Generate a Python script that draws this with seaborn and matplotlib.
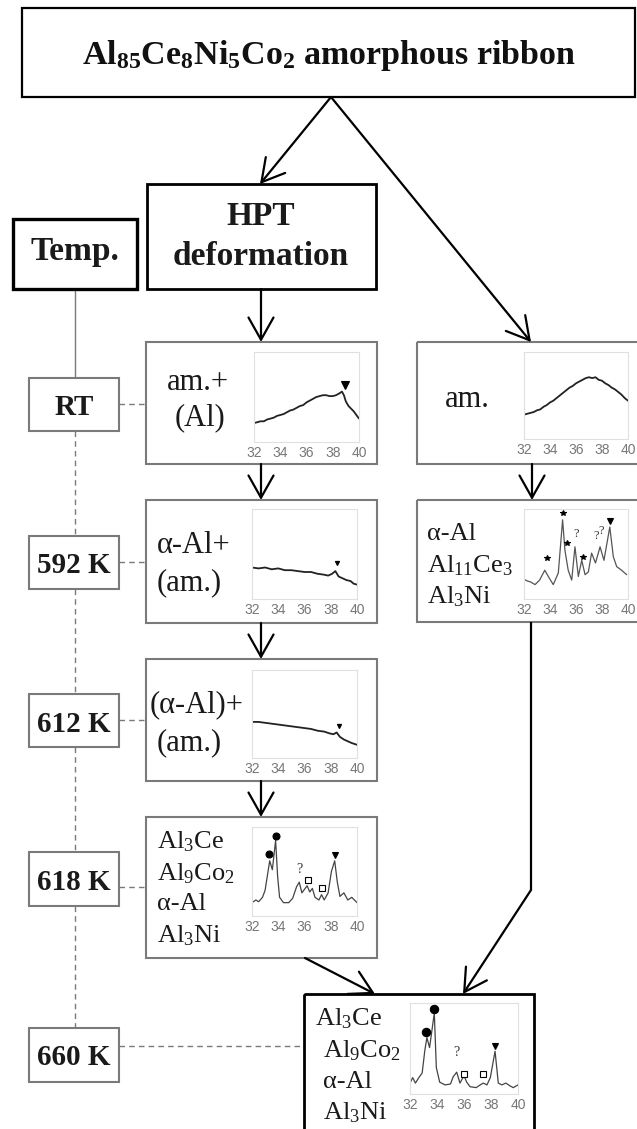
import matplotlib
matplotlib.use('Agg')
import matplotlib.pyplot as plt
import matplotlib.patches as mpatches
import seaborn as sns
import numpy as np

# ---------------- data ----------------
tick_vals = [32, 34, 36, 38, 40]
tick_labels = ["32", "34", "36", "38", "40"]

temps = ["RT", "592 K", "612 K", "618 K", "660 K"]

# HPT, RT : am.+(Al)
rt_x = [32.0, 32.25, 32.5, 32.75, 33.0, 33.25, 33.5, 33.75, 34.0, 34.25, 34.5, 34.75,
        35.0, 35.25, 35.5, 35.75, 36.0, 36.25, 36.5, 36.75, 37.0, 37.25, 37.5, 37.75,
        38.0, 38.25, 38.5, 38.7, 38.85, 39.0, 39.2, 39.4, 39.6, 39.8, 40.0]
rt_y = [0.21, 0.22, 0.23, 0.23, 0.25, 0.26, 0.27, 0.29, 0.30, 0.31, 0.33, 0.35,
        0.36, 0.38, 0.40, 0.41, 0.44, 0.46, 0.48, 0.50, 0.51, 0.52, 0.52, 0.51,
        0.51, 0.52, 0.54, 0.56, 0.52, 0.45, 0.40, 0.37, 0.34, 0.30, 0.26]

# as-spun ribbon : am.
am_x = [32.0, 32.25, 32.5, 32.75, 33.0, 33.25, 33.5, 33.75, 34.0, 34.25, 34.5, 34.75,
        35.0, 35.25, 35.5, 35.75, 36.0, 36.25, 36.5, 36.75, 37.0, 37.25, 37.5, 37.75,
        38.0, 38.25, 38.5, 38.75, 39.0, 39.25, 39.5, 39.75, 40.0]
am_y = [0.28, 0.29, 0.30, 0.31, 0.33, 0.34, 0.37, 0.39, 0.42, 0.44, 0.47, 0.50,
        0.53, 0.56, 0.59, 0.61, 0.64, 0.66, 0.68, 0.70, 0.71, 0.70, 0.71, 0.68,
        0.67, 0.64, 0.62, 0.59, 0.57, 0.54, 0.51, 0.47, 0.44]

# HPT, 592 K : α-Al+(am.)
k592_x = [32.0, 32.5, 33.0, 33.5, 34.0, 34.5, 35.0, 35.5, 36.0, 36.5, 37.0, 37.5,
          37.8, 38.1, 38.35, 38.6, 38.9, 39.2, 39.5, 39.75, 40.0]
k592_y = [0.35, 0.34, 0.35, 0.33, 0.34, 0.32, 0.32, 0.31, 0.30, 0.30, 0.28, 0.27,
          0.26, 0.28, 0.31, 0.25, 0.23, 0.21, 0.20, 0.17, 0.16]

# HPT, 612 K : (α-Al)+(am.)
k612_x = [32.0, 32.5, 33.0, 33.5, 34.0, 34.5, 35.0, 35.5, 36.0, 36.5, 37.0, 37.5,
          37.9, 38.2, 38.45, 38.7, 39.0, 39.3, 39.6, 39.8, 40.0]
k612_y = [0.41, 0.41, 0.40, 0.39, 0.38, 0.37, 0.36, 0.35, 0.34, 0.33, 0.31, 0.30,
          0.28, 0.27, 0.29, 0.24, 0.21, 0.19, 0.17, 0.16, 0.15]

# HPT, 618 K
k618_x = [32.0, 32.3, 32.5, 32.8, 33.0, 33.2, 33.35, 33.55, 33.8, 33.95, 34.1, 34.4,
          34.8, 35.1, 35.4, 35.6, 35.8, 36.0, 36.2, 36.4, 36.6, 36.8, 37.1, 37.3,
          37.5, 37.8, 38.05, 38.3, 38.5, 38.7, 39.0, 39.3, 39.6, 40.0]
k618_y = [0.15, 0.18, 0.16, 0.21, 0.29, 0.48, 0.62, 0.52, 0.85, 0.45, 0.21, 0.15,
          0.15, 0.20, 0.33, 0.38, 0.26, 0.30, 0.34, 0.27, 0.31, 0.21, 0.18, 0.24,
          0.18, 0.26, 0.50, 0.62, 0.38, 0.22, 0.26, 0.18, 0.21, 0.15]

# 660 K (both routes)
k660_x = [32.0, 32.2, 32.4, 32.7, 32.9, 33.1, 33.25, 33.45, 33.8, 33.95, 34.2, 34.6,
          35.0, 35.2, 35.46, 35.7, 36.0, 36.2, 36.45, 36.9, 37.2, 37.43, 37.7, 37.95,
          38.3, 38.54, 38.8, 39.1, 39.4, 39.65, 40.0]
k660_y = [0.12, 0.18, 0.12, 0.19, 0.23, 0.48, 0.62, 0.51, 0.89, 0.29, 0.13, 0.10,
          0.11, 0.19, 0.24, 0.12, 0.20, 0.13, 0.08, 0.07, 0.10, 0.12, 0.10, 0.18,
          0.47, 0.12, 0.10, 0.12, 0.09, 0.07, 0.10]

# ribbon annealed at 592 K
r592_x = [32.0, 32.25, 32.5, 32.85, 33.2, 33.6, 33.87, 34.25, 34.64, 34.97, 35.15, 35.4,
          35.67, 35.92, 36.18, 36.44, 36.7, 36.95, 37.2, 37.5, 37.85, 38.15, 38.6,
          38.87, 39.13, 39.5, 39.9]
r592_y = [0.22, 0.20, 0.19, 0.16, 0.21, 0.32, 0.25, 0.16, 0.29, 0.88, 0.54, 0.32,
          0.21, 0.58, 0.25, 0.43, 0.27, 0.30, 0.51, 0.40, 0.58, 0.43, 0.80,
          0.47, 0.36, 0.32, 0.27]

# peak markers
rt_tri = ([38.95], [0.63])
k592_tri = ([38.5], [0.40])
k612_tri = ([38.6], [0.36])
k618_dot = ([33.3, 33.8], [0.70, 0.90])
k618_sq = ([36.3, 37.3], [0.40, 0.32])
k618_q = ([35.6], [0.45])
k618_tri = ([38.3], [0.68])
k660_dot = ([33.2, 33.8], [0.68, 0.93])
k660_sq = ([36.0, 37.43], [0.22, 0.22])
k660_q = ([35.46], [0.38])
k660_tri = ([38.33], [0.53])
r592_star = ([33.74, 34.97, 35.28, 36.55], [0.46, 0.95, 0.62, 0.47])
r592_q = ([36.0, 37.55, 37.95], [0.66, 0.63, 0.69])
r592_tri = ([38.65], [0.87])

# ---------------- style ----------------
sns.set_style('white')
plt.rcParams['font.family'] = ['Liberation Serif', 'DejaVu Serif']
plt.rcParams['mathtext.fontset'] = 'custom'
plt.rcParams['mathtext.rm'] = 'Liberation Serif'
plt.rcParams['mathtext.it'] = 'Liberation Serif:italic'
plt.rcParams['mathtext.bf'] = 'Liberation Serif:bold'

W, H = 637, 1129
fig = plt.figure(figsize=(W / 100, H / 100), dpi=100)
ax = fig.add_axes([0, 0, 1, 1])
ax.set_xlim(0, W)
ax.set_ylim(H, 0)
ax.axis('off')

GRAY = '#7a7a7a'


def box(x0, y0, x1, y1, ec='k', lw=1.5):
    ax.add_patch(mpatches.Rectangle((x0, y0), x1 - x0, y1 - y0, fill=False,
                                    ec=ec, lw=lw, zorder=2))


def arrow(p0, p1):
    ax.annotate('', xy=p1, xytext=p0,
                arrowprops=dict(arrowstyle='->,head_length=0.8,head_width=0.45',
                                lw=1.6, color='k', shrinkA=0, shrinkB=0,
                                mutation_scale=20), zorder=3)


def txt(x, y, s, size, ha='left', bold=False):
    ax.text(x, y, s, fontsize=size, ha=ha, va='baseline',
            fontweight='bold' if bold else 'normal', color='#1a1a1a', zorder=4)


# ---------------- top / process boxes ----------------
box(22, 8, 635, 97, lw=1.6)
ax.text(329, 64, r'Al$_{\mathbf{85}}$Ce$_{\mathbf{8}}$Ni$_{\mathbf{5}}$Co$_{\mathbf{2}}$ amorphous ribbon',
        fontsize=24.5, fontweight='bold', ha='center', va='baseline', color='#111')

box(147, 184, 376, 289, lw=2.0)
txt(261, 225, 'HPT', 24, ha='center', bold=True)
txt(261, 265, 'deformation', 24, ha='center', bold=True)

box(13, 219, 137, 289, lw=2.4)
txt(75, 260, 'Temp.', 24, ha='center', bold=True)

# arrows from the ribbon
arrow((331, 97), (260, 184))
arrow((331, 97), (531, 342))
arrow((261, 289), (261, 342))
arrow((261, 464), (261, 500))
arrow((261, 623), (261, 659))
arrow((261, 781), (261, 817))
arrow((532, 464), (532, 500))
ax.plot([531, 531], [622, 890], color='k', lw=1.6, zorder=3, solid_capstyle='butt')
arrow((531, 890), (463, 994))
arrow((305, 958), (375, 994))

# ---------------- temperature column ----------------
t_boxes = [(378, 431), (536, 589), (694, 747), (852, 906), (1028, 1082)]
t_base = [415, 573, 732, 890, 1065]
t_link = [404, 562, 720, 887, 1046]
t_link_end = [146, 146, 146, 146, 304]
ax.plot([75, 75], [289, 378], color=GRAY, lw=1.0, zorder=1)
for i, (lab, (y0, y1)) in enumerate(zip(temps, t_boxes)):
    box(29, y0, 119, y1, ec=GRAY, lw=1.5)
    txt(74, t_base[i], lab, 21, ha='center', bold=True)
    ax.plot([119, t_link_end[i]], [t_link[i], t_link[i]], color=GRAY, lw=1.0,
            dashes=(4, 3), zorder=1)
    if i < len(temps) - 1:
        ax.plot([75, 75], [y1, t_boxes[i + 1][0]], color=GRAY, lw=1.0,
                dashes=(4, 3), zorder=1)

# ---------------- panel boxes ----------------
box(146, 342, 377, 464, ec=GRAY)
box(146, 500, 377, 623, ec=GRAY)
box(146, 659, 377, 781, ec=GRAY)
box(146, 817, 377, 958, ec=GRAY)
box(417, 342, 640, 464, ec=GRAY)
box(417, 500, 640, 622, ec=GRAY)
box(304, 994, 534, 1140, ec='k', lw=2.0)

# panel texts
txt(198, 390, 'am.+', 22, ha='center')
txt(200, 425, '(Al)', 22, ha='center')
txt(467, 407, 'am.', 22, ha='center')
txt(157, 553, 'α-Al+', 22)
txt(157, 590, '(am.)', 22)
txt(150, 712, '(α-Al)+', 22)
txt(157, 750, '(am.)', 22)
for s, yb in zip([r'Al$_3$Ce', r'Al$_9$Co$_2$', 'α-Al', r'Al$_3$Ni'], [848, 880, 910, 942]):
    txt(157, yb, s, 19)
for s, xx, yb in zip([r'Al$_3$Ce', r'Al$_9$Co$_2$', 'α-Al', r'Al$_3$Ni'],
                     [315, 323, 323, 323], [1025, 1057, 1088, 1119]):
    txt(xx, yb, s, 19)
for s, yb in zip(['α-Al', r'Al$_{11}$Ce$_3$', r'Al$_3$Ni'], [540, 572, 603]):
    txt(427, yb, s, 19)


# ---------------- XRD insets ----------------
def inset(x0, y0, x1, y1, xs, ys, lw=1.3, color='#222222'):
    a = fig.add_axes([x0 / W, 1 - y1 / H, (x1 - x0) / W, (y1 - y0) / H])
    sns.lineplot(x=xs, y=ys, ax=a, color=color, lw=lw, sort=False)
    a.set_xlim(32, 40)
    a.set_ylim(0, 1)
    a.set_yticks([])
    a.set_xticks(tick_vals, labels=tick_labels, fontfamily=['Liberation Sans', 'DejaVu Sans'])
    a.set_xticks(np.arange(32, 41, 1), minor=True)
    a.tick_params(axis='x', which='both', direction='in', length=2, width=0.6,
                  color='#c8c8c8', labelsize=10, labelcolor='#777777', pad=3)
    for sp in a.spines.values():
        sp.set_color('#e0e0e0')
        sp.set_linewidth(0.8)
    a.set_xlabel('')
    a.set_ylabel('')
    a.set_facecolor('white')
    return a


def marks(a, pts, m, ms, filled=True):
    a.plot(pts[0], pts[1], ls='none', marker=m, ms=ms,
           mfc='k' if filled else 'white', mec='k', mew=0.8, clip_on=False)


def qmarks(a, pts, size=10):
    for xq, yq in zip(*pts):
        a.text(xq, yq, '?', ha='center', va='bottom', fontsize=size, color='#333')


a = inset(254, 352, 359, 442, rt_x, rt_y)
marks(a, rt_tri, 'v', 6)

a = inset(524, 352, 628, 439, am_x, am_y)

a = inset(252, 509, 357, 599, k592_x, k592_y)
marks(a, k592_tri, 'v', 3)

a = inset(252, 670, 357, 758, k612_x, k612_y)
marks(a, k612_tri, 'v', 3)

a = inset(252, 827, 357, 916, k618_x, k618_y, lw=0.9, color='#444')
marks(a, k618_dot, 'o', 5)
marks(a, k618_sq, 's', 4, filled=False)
marks(a, k618_tri, 'v', 4)
qmarks(a, k618_q)

a = inset(410, 1003, 518, 1094, k660_x, k660_y, lw=0.9, color='#444')
marks(a, k660_dot, 'o', 6)
marks(a, k660_sq, 's', 4, filled=False)
marks(a, k660_tri, 'v', 4)
qmarks(a, k660_q)

a = inset(524, 509, 628, 599, r592_x, r592_y, lw=0.9, color='#555')
marks(a, r592_star, '*', 4)
marks(a, r592_tri, 'v', 5)
qmarks(a, r592_q, 9)

fig.savefig('out.png', dpi=100)
